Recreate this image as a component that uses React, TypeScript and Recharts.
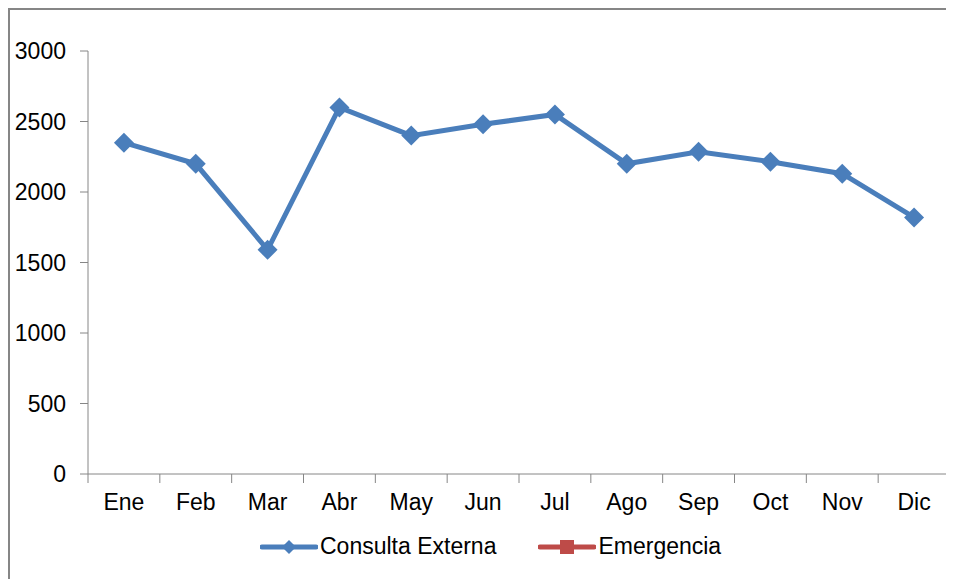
import React from "react";
import { LineChart, Line, XAxis, YAxis, Legend } from "recharts";

const months = ["Ene", "Feb", "Mar", "Abr", "May", "Jun", "Jul", "Ago", "Sep", "Oct", "Nov", "Dic"];
const consultaExterna = [2350, 2200, 1590, 2600, 2400, 2480, 2550, 2200, 2285, 2215, 2130, 1820];
const emergencia: (number | null)[] = [null, null, null, null, null, null, null, null, null, null, null, null];
const yTicks = [0, 500, 1000, 1500, 2000, 2500, 3000];

const data = months.map((m, i) => ({
  month: m,
  consulta: consultaExterna[i],
  emergencia: emergencia[i],
}));

const BLUE = "#4A7EBB";
const RED = "#BE4B48";
const AXIS = "#868686";
const FONT = "'Liberation Sans', Arial, sans-serif";

const W = 944;
const H = 569;
const PLOT_LEFT = 78;
const PLOT_RIGHT = 4;
const band = (W - PLOT_LEFT - PLOT_RIGHT) / months.length;

const Diamond = (props: any) => {
  const { cx, cy } = props;
  if (cx == null || cy == null) return null;
  const r = 10;
  return (
    <polygon
      points={`${cx},${cy - r} ${cx + r},${cy} ${cx},${cy + r} ${cx - r},${cy}`}
      fill={BLUE}
    />
  );
};

const MonthTick = (props: any) => {
  const { x, y, payload, index } = props;
  const last = index === months.length - 1;
  return (
    <g>
      <line x1={x - band / 2} x2={x - band / 2} y1={y} y2={y + 9} stroke={AXIS} />
      {last && <line x1={x + band / 2} x2={x + band / 2} y1={y} y2={y + 9} stroke={AXIS} />}
      <text x={x} y={y + 20} dy="0.71em" textAnchor="middle" fill="#000" fontSize={23} fontFamily={FONT}>
        {payload.value}
      </text>
    </g>
  );
};

const LegendContent = () => (
  <div style={{ display: "flex", alignItems: "center", fontFamily: FONT, fontSize: 23, color: "#000" }}>
    <svg width={58} height={24}>
      <line x1={2} x2={56} y1={12} y2={12} stroke={BLUE} strokeWidth={5} strokeLinecap="round" />
      <polygon points="29,5 36,12 29,19 22,12" fill={BLUE} />
    </svg>
    <span style={{ marginLeft: 2, marginRight: 42 }}>Consulta Externa</span>
    <svg width={58} height={24}>
      <line x1={2} x2={56} y1={12} y2={12} stroke={RED} strokeWidth={5} strokeLinecap="round" />
      <rect x={22} y={5} width={14} height={14} fill={RED} />
    </svg>
    <span style={{ marginLeft: 2 }}>Emergencia</span>
  </div>
);

export default function App() {
  return (
    <div style={{ borderTop: `2px solid ${AXIS}`, borderLeft: `2px solid ${AXIS}`, width: W, height: H, background: "#fff" }}>
      <LineChart width={W} height={H} data={data} margin={{ top: 41, right: PLOT_RIGHT, left: 0, bottom: 0 }}>
        <XAxis
          dataKey="month"
          scale="band"
          height={78}
          axisLine={{ stroke: AXIS }}
          tickLine={false}
          tickSize={0}
          tickMargin={0}
          interval={0}
          tick={<MonthTick />}
        />
        <YAxis
          width={PLOT_LEFT}
          domain={[0, 3000]}
          ticks={yTicks}
          interval={0}
          axisLine={{ stroke: AXIS }}
          tickLine={{ stroke: AXIS }}
          tickSize={8}
          tickMargin={14}
          tick={{ fill: "#000", fontSize: 23, fontFamily: FONT }}
        />
        <Legend
          content={<LegendContent />}
          wrapperStyle={{ position: "absolute", left: 250, top: 523, width: "auto", bottom: "auto" }}
        />
        <Line
          dataKey="consulta"
          name="Consulta Externa"
          stroke={BLUE}
          strokeWidth={5}
          dot={<Diamond />}
          activeDot={false}
          isAnimationActive={false}
        />
        <Line
          dataKey="emergencia"
          name="Emergencia"
          stroke={RED}
          strokeWidth={5}
          dot={false}
          activeDot={false}
          isAnimationActive={false}
        />
      </LineChart>
    </div>
  );
}
